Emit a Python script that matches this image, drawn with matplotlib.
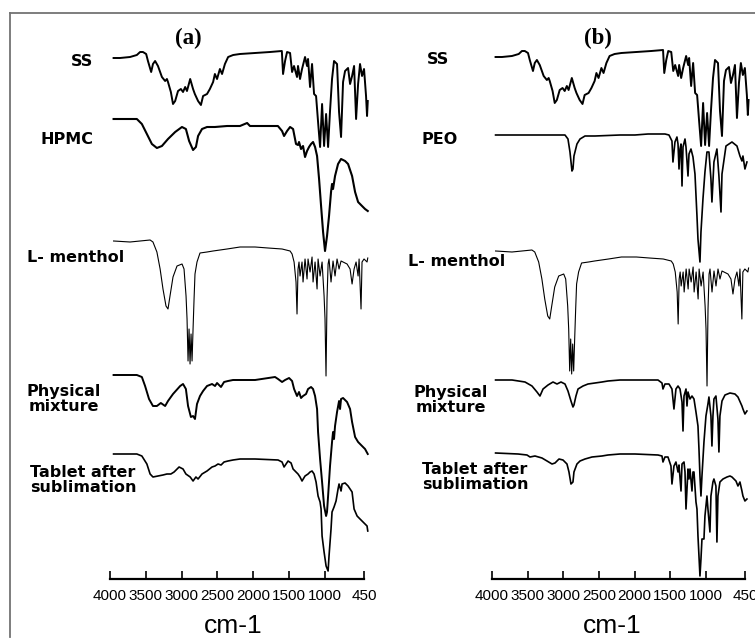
import matplotlib
matplotlib.use('Agg')
import matplotlib.pyplot as plt
from matplotlib import font_manager
from matplotlib.lines import Line2D
from matplotlib import transforms

# FTIR spectra: wavenumber (cm-1) and relative transmittance (a.u.)
ss_wn = [3950, 3860, 3720, 3625, 3580, 3540, 3495, 3470, 3425, 3400,
         3370, 3330, 3275, 3230, 3205, 3190, 3150, 3120, 3090, 3050,
         3010, 2980, 2950, 2925, 2880, 2840, 2815, 2770, 2730, 2700,
         2645, 2605, 2560, 2535, 2505, 2465, 2435, 2395, 2350, 2280,
         2185, 1975, 1765, 1600, 1583, 1555, 1527, 1485, 1457, 1430,
         1388, 1374, 1346, 1318, 1276, 1248, 1234, 1206, 1178, 1150,
         1122, 1094, 1066, 1038, 1010, 982, 954, 927, 899, 871,
         829, 801, 773, 745, 717, 675, 647, 619, 591, 563,
         535, 508, 480, 452, 424, 410, 400]
ss_t = [100, 100, 101, 103, 106, 106, 104, 97, 86, 94,
        97, 92, 81, 77, 79, 76, 66, 54, 57, 67,
        69, 66, 71, 67, 79, 69, 64, 57, 53, 62,
        64, 69, 76, 84, 79, 89, 84, 94, 101, 103,
        104, 105, 106, 107, 84, 97, 106, 105, 86, 92,
        81, 92, 79, 89, 101, 92, 99, 71, 94, 64,
        62, 36, 11, 54, 12, 44, 11, 47, 79, 97,
        94, 46, 21, 76, 87, 90, 74, 82, 92, 39,
        74, 94, 82, 89, 62, 42, 57]

hpmc_wn = [3950, 3790, 3625, 3555, 3485, 3415, 3345, 3275, 3190, 3090,
           2995, 2940, 2895, 2840, 2800, 2770, 2715, 2645, 2535, 2365,
           2185, 2085, 2045, 1795, 1655, 1597, 1569, 1527, 1485, 1443,
           1402, 1374, 1360, 1332, 1304, 1276, 1248, 1220, 1192, 1164,
           1136, 1108, 1080, 1052, 1024, 997, 969, 941, 913, 899,
           885, 857, 815, 773, 717, 675, 619, 577, 535, 480,
           438, 400]
hpmc_t = [100, 100, 100, 95, 85, 75, 71, 73, 80, 87,
          92, 90, 78, 69, 72, 83, 90, 92, 92, 93,
          93, 96, 93, 93, 93, 88, 83, 88, 92, 90,
          75, 74, 77, 70, 73, 62, 68, 72, 75, 77,
          72, 63, 40, 13, -13, -32, -17, 3, 27, 35,
          30, 43, 55, 60, 58, 55, 43, 27, 17, 13,
          10, 8]

menthol_wn = [3950, 3720, 3580, 3440, 3400, 3345, 3300, 3260, 3218, 3190,
              3162, 3120, 3064, 2994, 2966, 2938, 2924, 2910, 2896, 2882,
              2868, 2854, 2840, 2826, 2813, 2785, 2743, 2645, 2561, 2365,
              2184, 1974, 1793, 1597, 1485, 1457, 1429, 1402, 1388, 1374,
              1360, 1346, 1318, 1304, 1276, 1248, 1234, 1206, 1178, 1164,
              1136, 1108, 1094, 1066, 1038, 1010, 997, 983, 969, 954,
              941, 913, 885, 857, 829, 801, 773, 745, 689, 647,
              619, 591, 563, 535, 521, 494, 480, 452, 410, 400]
menthol_t = [100, 99, 100, 101, 99, 89, 72, 52, 35, 32,
             45, 64, 75, 77, 72, 45, 22, -20, 12, -23,
             7, -20, 12, 42, 67, 79, 88, 89, 90, 92,
             94, 94, 93, 92, 90, 87, 79, 59, 27, 72,
             79, 65, 79, 59, 82, 62, 82, 69, 84, 59,
             79, 52, 82, 65, 79, 45, 22, -35, 42, 77,
             82, 59, 80, 65, 82, 72, 80, 79, 77, 72,
             57, 72, 79, 65, 82, 32, 79, 82, 79, 83]

pm_hpmc_wn = [3950, 3625, 3555, 3510, 3455, 3400, 3345, 3290, 3230, 3190,
              3120, 3020, 2980, 2940, 2910, 2870, 2840, 2813, 2785, 2743,
              2700, 2645, 2575, 2533, 2505, 2450, 2407, 2352, 2282, 2184,
              1974, 1695, 1653, 1597, 1555, 1499, 1457, 1429, 1388, 1360,
              1332, 1304, 1262, 1234, 1192, 1164, 1136, 1108, 1094, 1066,
              1038, 1010, 982, 969, 954, 927, 899, 885, 871, 857,
              829, 801, 787, 773, 745, 689, 647, 619, 577, 535,
              480, 438, 400]
pm_hpmc_t = [100, 100, 98, 89, 76, 69, 69, 72, 69, 74,
             81, 89, 91, 86, 69, 58, 59, 56, 71, 79,
             84, 89, 91, 89, 92, 88, 93, 94, 95, 95,
             95, 98, 96, 93, 95, 97, 94, 86, 79, 83,
             77, 79, 81, 86, 88, 86, 79, 66, 43, 16,
             -7, -31, -41, -37, -21, 9, 33, 43, 36, 49,
             63, 74, 66, 76, 77, 73, 66, 53, 38, 33,
             29, 26, 21]

tab_hpmc_wn = [3950, 3625, 3555, 3485, 3440, 3400, 3330, 3260, 3205, 3150,
               3105, 3035, 2980, 2940, 2880, 2840, 2800, 2770, 2715, 2645,
               2575, 2533, 2491, 2449, 2407, 2352, 2282, 2184, 1974, 1653,
               1597, 1569, 1541, 1513, 1471, 1443, 1402, 1374, 1346, 1318,
               1276, 1234, 1206, 1178, 1150, 1122, 1094, 1066, 1052, 1038,
               1010, 982, 954, 941, 913, 899, 871, 843, 815, 801,
               773, 759, 717, 675, 619, 591, 549, 508, 466, 410,
               400]
tab_hpmc_t = [100, 100, 98, 90, 80, 77, 78, 79, 80, 80,
              82, 87, 85, 80, 77, 73, 77, 75, 80, 83,
              87, 88, 90, 89, 92, 93, 94, 95, 95, 94,
              92, 87, 90, 93, 91, 85, 82, 80, 77, 73,
              78, 80, 82, 83, 80, 72, 58, 52, 45, 18,
              2, -12, -17, -2, 25, 42, 47, 53, 65, 70,
              63, 70, 71, 68, 62, 45, 38, 35, 32, 28,
              23]

peo_wn = [3950, 3607, 3158, 2976, 2934, 2906, 2878, 2864, 2850, 2808,
          2765, 2695, 2555, 2204, 1994, 1811, 1573, 1517, 1475, 1461,
          1433, 1405, 1390, 1376, 1362, 1348, 1334, 1320, 1292, 1278,
          1250, 1236, 1208, 1180, 1152, 1124, 1110, 1082, 1068, 1040,
          1012, 984, 956, 928, 914, 886, 844, 816, 787, 773,
          717, 633, 563, 521, 493, 479, 451, 423]
peo_t = [100, 100, 100, 100, 96, 83, 64, 66, 79, 91,
         96, 99, 99, 100, 100, 101, 101, 100, 94, 73,
         93, 98, 91, 66, 86, 91, 49, 88, 96, 88,
         59, 81, 86, 78, 61, 19, -4, -27, 3, 36,
         63, 83, 83, 56, 33, 73, 86, 59, 23, 61,
         89, 93, 89, 79, 74, 79, 66, 73]

pm_peo_wn = [3950, 3719, 3537, 3439, 3369, 3327, 3284, 3214, 3144, 3088,
             3032, 2976, 2934, 2892, 2864, 2850, 2822, 2793, 2723, 2653,
             2555, 2457, 2373, 2204, 1994, 1671, 1615, 1601, 1573, 1517,
             1475, 1447, 1419, 1390, 1362, 1334, 1320, 1306, 1278, 1264,
             1250, 1222, 1194, 1166, 1138, 1110, 1096, 1082, 1068, 1054,
             1026, 998, 970, 956, 928, 914, 900, 886, 858, 830,
             816, 802, 773, 731, 661, 591, 549, 493, 479, 451,
             423]
pm_peo_t = [100, 100, 98, 94, 88, 84, 91, 95, 98, 96,
            98, 96, 89, 79, 73, 75, 84, 91, 94, 96,
            97, 98, 99, 100, 100, 100, 97, 91, 96, 96,
            91, 71, 91, 94, 91, 78, 49, 84, 91, 74,
            88, 81, 84, 81, 68, 54, 31, 4, -16, 4,
            38, 64, 76, 83, 64, 34, 64, 81, 84, 61,
            28, 64, 79, 85, 87, 86, 83, 74, 71, 66,
            69]

tab_peo_wn = [3950, 3635, 3509, 3467, 3397, 3299, 3228, 3158, 3116, 3060,
              3004, 2948, 2920, 2892, 2864, 2850, 2808, 2765, 2695, 2597,
              2457, 2373, 2204, 1994, 1671, 1615, 1601, 1573, 1531, 1489,
              1475, 1447, 1419, 1390, 1376, 1348, 1334, 1306, 1292, 1278,
              1250, 1236, 1222, 1194, 1180, 1166, 1138, 1124, 1110, 1082,
              1068, 1054, 1026, 1012, 984, 970, 942, 928, 900, 886,
              858, 844, 830, 802, 759, 703, 661, 633, 605, 577,
              549, 521, 493, 479, 451, 423]
tab_peo_t = [100, 99, 98, 96, 97, 95, 92, 89, 90, 94,
             93, 89, 81, 69, 71, 81, 89, 92, 94, 96,
             97, 98, 99, 99, 98, 97, 91, 96, 96, 87,
             69, 87, 91, 81, 88, 62, 89, 91, 81, 44,
             84, 74, 84, 62, 81, 81, 51, 44, 17, -23,
             -6, 14, 14, 37, 57, 44, 21, 57, 71, 74,
             67, 11, 57, 71, 74, 76, 77, 76, 74, 72,
             67, 71, 62, 57, 52, 54]

names_a = ['SS', 'HPMC', 'L- menthol', 'Physical\nmixture', 'Tablet after\nsublimation']
names_b = ['SS', 'PEO', 'L- menthol', 'Physical\nmixture', 'Tablet after\nsublimation']
offsets_a = [421, 360, 238, 104, 25]
offsets_b = [422, 344, 228, 99, 26]
tick_wn = [4000, 3500, 3000, 2500, 2000, 1500, 1000, 450]

spectra_a = [(ss_wn, ss_t), (hpmc_wn, hpmc_t), (menthol_wn, menthol_t),
             (pm_hpmc_wn, pm_hpmc_t), (tab_hpmc_wn, tab_hpmc_t)]
spectra_b = [(ss_wn, ss_t), (peo_wn, peo_t), (menthol_wn, menthol_t),
             (pm_peo_wn, pm_peo_t), (tab_peo_wn, tab_peo_t)]
widths_a = [1.4, 1.5, 0.8, 1.4, 1.2]
widths_b = [1.4, 1.2, 0.8, 1.2, 1.2]

W, H = 755, 642


def tick_font():
    # narrow face for the tick numbers when available
    try:
        path = font_manager.findfont(
            font_manager.FontProperties(family='Liberation Sans Narrow'),
            fallback_to_default=False)
        return font_manager.FontProperties(fname=path, size=13)
    except ValueError:
        return font_manager.FontProperties(family='Liberation Sans', size=11)


tick_fp = tick_font()
fig = plt.figure(figsize=(W / 100, H / 100), dpi=100)

# figure pixel coordinates, origin at the top-left corner
pix = transforms.Affine2D().scale(1 / W, -1 / H).translate(0, 1) + fig.transFigure


def panel(x4000, px_per_wn, spectra, offsets, widths, names, label_pos,
          tag, tag_x, unit_x):
    base = 579
    ax = fig.add_axes([x4000 / W, (H - base) / H, 3600 * px_per_wn / W, 545 / H])
    for (wn, t), off, lw in zip(spectra, offsets, widths):
        ax.plot(wn, [v + off for v in t], color='black', lw=lw, clip_on=False)
    ax.set_xlim(4000, 400)
    ax.set_ylim(0, 545)
    for s in ('left', 'right', 'top'):
        ax.spines[s].set_visible(False)
    ax.spines['bottom'].set_bounds(450, 4000)
    ax.spines['bottom'].set_linewidth(1.6)
    ax.set_yticks([])
    ax.set_xticks(tick_wn)
    ax.set_xticklabels([str(v) for v in tick_wn], fontproperties=tick_fp)
    ax.tick_params(axis='x', direction='in', length=6, width=1.2, pad=7)
    ax.patch.set_visible(False)
    ax.text(unit_x, 626, 'cm-1', transform=pix, ha='center', va='center',
            family=['Liberation Sans', 'DejaVu Sans'], fontsize=19)
    ax.text(tag_x, 38, tag, transform=pix, ha='center', va='center',
            family=['Liberation Serif', 'DejaVu Serif'], weight='bold', fontsize=16.5)
    for name, (lx, ly) in zip(names, label_pos):
        ax.text(lx, ly, name, transform=pix, ha='center', va='center',
                multialignment='center', linespacing=0.95,
                family='DejaVu Sans', weight='bold', fontsize=11.5)


panel(110, 0.0716, spectra_a, offsets_a, widths_a, names_a,
      [(82, 62), (67, 140), (76, 257), (64, 399), (83, 480)],
      '(a)', 188, 233)
panel(492, 0.07127, spectra_b, offsets_b, widths_b, names_b,
      [(438, 60), (440, 140), (457, 262), (451, 400), (475, 477)],
      '(b)', 598, 612)

# outer frame, open at the bottom and right
frame = dict(color='0.45', lw=1.3, transform=fig.transFigure)
fig.add_artist(Line2D([10 / W, 10 / W], [1 - 637 / H, 1 - 13 / H], **frame))
fig.add_artist(Line2D([10 / W, 1.0], [1 - 13 / H, 1 - 13 / H], **frame))

fig.savefig('out.png', dpi=100)
